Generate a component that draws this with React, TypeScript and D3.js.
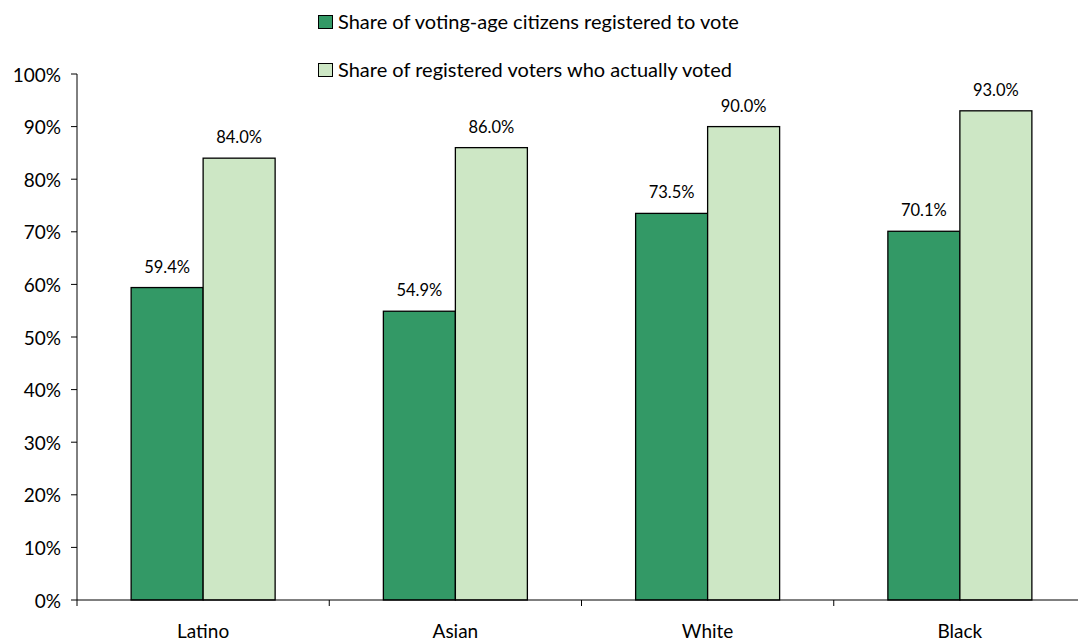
import React from "react";
import * as d3 from "d3";

const categories = ["Latino", "Asian", "White", "Black"];
const registered = [59.4, 54.9, 73.5, 70.1];
const voted = [84.0, 86.0, 90.0, 93.0];
const seriesNames = [
  "Share of voting-age citizens registered to vote",
  "Share of registered voters who actually voted",
];
const yTicks = [0, 10, 20, 30, 40, 50, 60, 70, 80, 90, 100];

const colors = ["#339966", "#cde7c5"];
const font = "Lato, 'Open Sans', sans-serif";

export default function App() {
  const W = 1078, H = 643;
  const left = 77, right = 1086, top = 74, bottom = 600;
  const x = d3.scaleBand<string>().domain(categories).range([left, right]);
  const y = d3.scaleLinear().domain([0, 100]).range([bottom, top]);
  const barW = 72;
  const series = [registered, voted];

  return (
    <svg width={W} height={H} style={{ position: "absolute", left: 0, top: 0 }} fontFamily={font}>
      <rect width={W} height={H} fill="#fff" />
      {/* legend */}
      {seriesNames.map((n, i) => (
        <g key={n} transform={`translate(318, ${15 + i * 48})`}>
          <rect x={0.5} y={0.5} width={14} height={13} fill={colors[i]} stroke="#000" strokeWidth={1} />
          <text x={20} y={13.5} fontSize={20} fill="#000">{n}</text>
        </g>
      ))}
      {/* bars */}
      {categories.map((c, ci) => {
        const cx = (x(c) ?? 0) + x.bandwidth() / 2;
        return series.map((s, si) => {
          const bx = cx - barW + si * barW;
          const v = s[ci];
          return (
            <g key={c + si}>
              <rect x={bx} y={y(v)} width={barW} height={bottom - y(v)} fill={colors[si]} stroke="#000" strokeWidth={1.3} />
              <text x={bx + barW / 2} y={y(v) - 15} fontSize={16.5} textAnchor="middle" fill="#000">{v.toFixed(1)}%</text>
            </g>
          );
        });
      })}
      {/* y axis */}
      <line x1={left} x2={left} y1={top} y2={bottom} stroke="#000" />
      {yTicks.map((t) => (
        <g key={t}>
          <line x1={left - 6} x2={left} y1={y(t)} y2={y(t)} stroke="#000" />
          <text x={61} y={y(t) + 7.5} fontSize={19} textAnchor="end" fill="#000">{t}%</text>
        </g>
      ))}
      {/* x axis */}
      <line x1={left} x2={right} y1={bottom} y2={bottom} stroke="#000" />
      {categories.map((c, i) => (
        <line key={"t" + c} x1={left + i * x.bandwidth()} x2={left + i * x.bandwidth()} y1={bottom} y2={bottom + 6} stroke="#000" />
      ))}
      {categories.map((c) => (
        <text key={"l" + c} x={(x(c) ?? 0) + x.bandwidth() / 2} y={638} fontSize={19} textAnchor="middle" fill="#000">{c}</text>
      ))}
    </svg>
  );
}
